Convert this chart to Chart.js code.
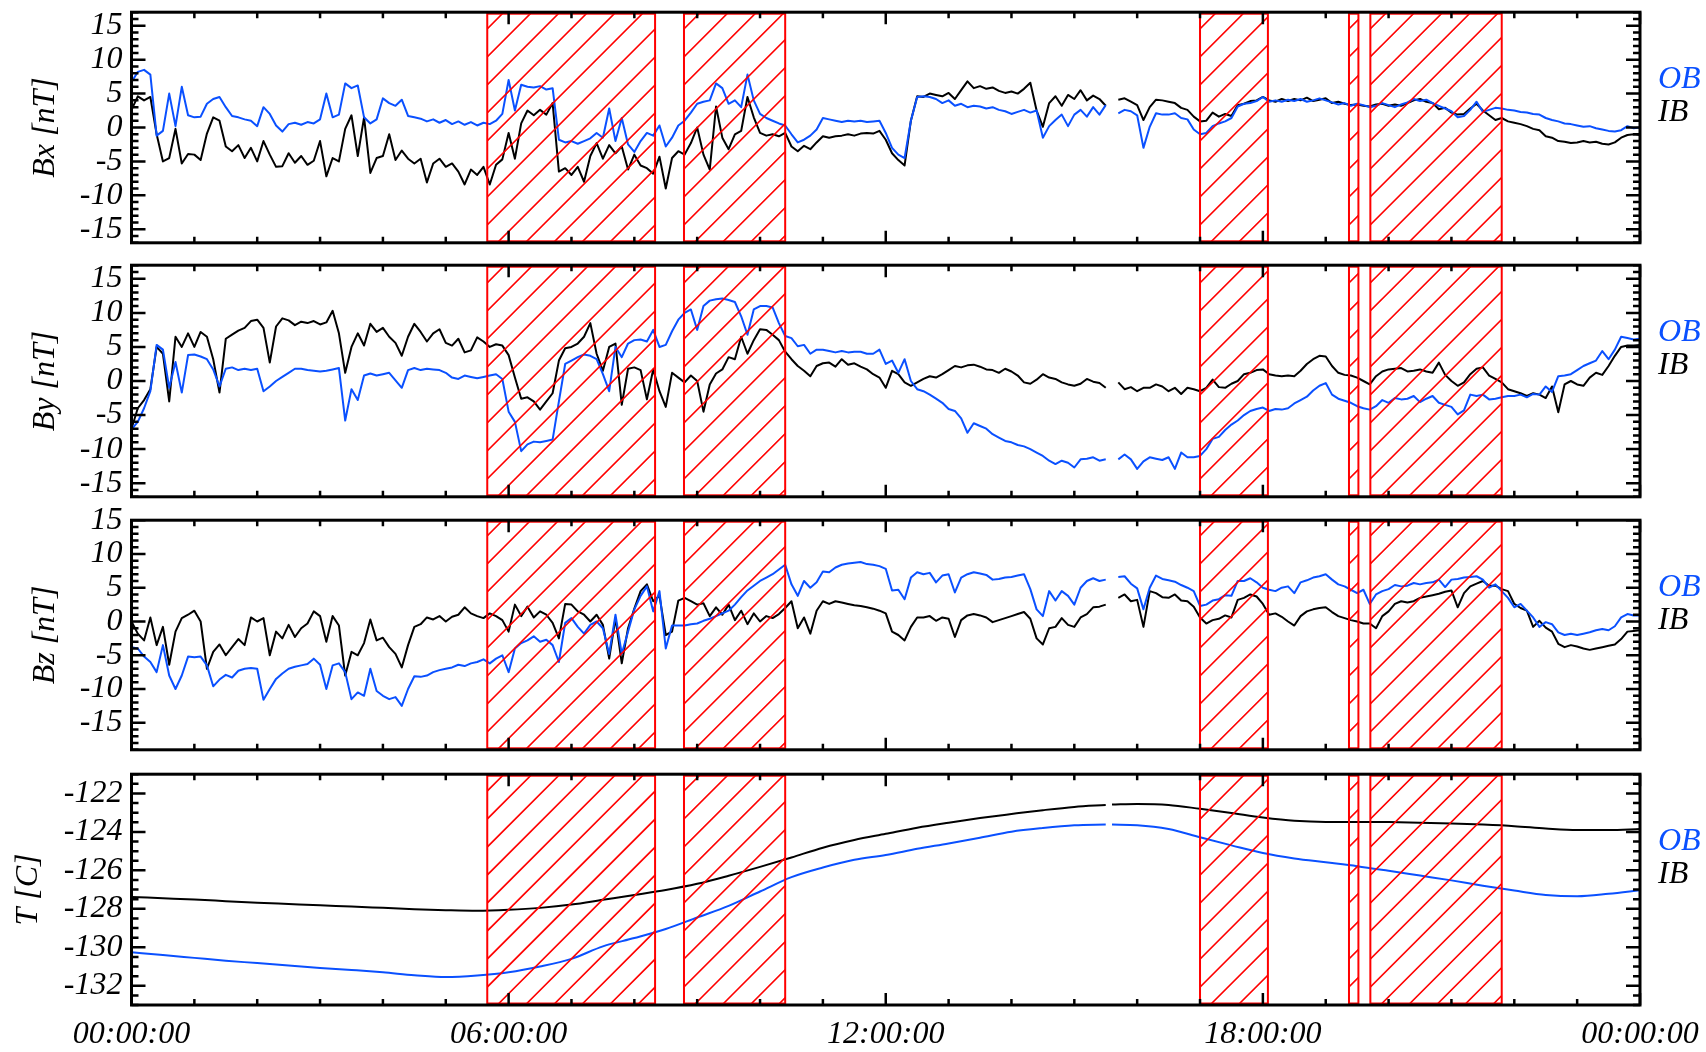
<!DOCTYPE html>
<html>
<head>
<meta charset="utf-8">
<title>Bx By Bz T — OB / IB</title>
<script src="https://cdn.jsdelivr.net/npm/chart.js@4.4.1/dist/chart.umd.min.js"></script>
<style>
  html, body { margin: 0; padding: 0; background: #fff; }
  #page { position: relative; width: 1706px; height: 1052px; overflow: hidden; }
  #page canvas { position: absolute; left: 0; }
</style>
</head>
<body>
<div id="page">
  <canvas id="p-bx"></canvas>
  <canvas id="p-by"></canvas>
  <canvas id="p-bz"></canvas>
  <canvas id="p-t"></canvas>
</div>
<script>
// Magnetometer panels (OB blue / IB black) with hatched intervals.
// B samples every 0.1 h from 00:00 to 24:00; null marks the short data gap near 15:36.
const HOURS = Array.from({ length: 241 }, (_, i) => i / 10);

const BX_OB = [
  6.7, 8.2, 8.5, 7.8, -1.2, -0.5, 5.0, 0.2, 6.0, 1.8,
  1.5, 1.6, 3.5, 4.2, 4.5, 3.0, 1.7, 1.5, 1.2, 1.0,
  0.2, 3.0, 2.0, 0.3, -0.6, 0.5, 0.7, 0.4, 0.8, 0.6,
  1.2, 5.0, 1.5, 1.9, 6.5, 5.8, 6.2, 1.5, 0.6, 1.2,
  4.3, 3.6, 3.2, 4.1, 1.7, 1.5, 1.3, 0.9, 1.2, 0.7,
  1.1, 0.5, 0.9, 0.4, 0.8, 0.3, 0.7, 0.5, 1.0, 2.0,
  7.0, 2.5, 6.3, 6.0, 5.9, 6.1, 5.6, 5.8, -1.8, -2.2,
  -2.0, -2.4, -2.0, -1.6, -0.8, -1.5, 2.8, -2.0, 1.4, -2.5,
  -3.6, -2.0, -0.8, -1.2, 0.3, -2.8, -1.5, 0.3, 1.0, 2.2,
  3.5, 3.8, 4.0, 6.5, 5.8, 3.5, 4.0, 3.0, 7.8, 4.0,
  2.0, 1.4, 1.0, 0.6, 0.3, -1.0, -2.2, -1.8, -1.2, -0.3,
  1.4, 1.2, 1.0, 0.8, 1.0, 0.9, 1.0, 0.8, 0.9, 1.0,
  -0.8, -3.0, -4.0, -4.5, 1.0, 4.5, 4.6, 4.5, 4.2, 3.6,
  4.0, 3.2, 3.5, 3.0, 3.2, 3.1, 2.8, 3.0, 2.6, 2.4,
  2.0, 2.3, 2.6, 2.2, 2.5, -1.5, 0.2, 1.1, 1.9, 0.2,
  1.9, 2.6, 1.6, 3.0, 1.9, 3.3, null, 2.1, 2.6, 2.4,
  1.8, -3.0, 0.1, 2.1, 1.9, 1.9, 2.1, 1.4, 1.2, -0.3,
  -1.0, -0.8, 0.2, 0.6, 0.9, 1.4, 3.1, 3.5, 3.6, 3.9,
  4.5, 3.8, 4.0, 3.8, 4.1, 3.9, 4.2, 3.8, 4.0, 4.3,
  4.0, 3.7, 3.4, 3.6, 3.2, 3.5, 3.3, 3.0, 3.2, 3.6,
  3.3, 3.0, 3.4, 3.7, 4.2, 3.9, 4.1, 3.6, 3.2, 2.8,
  2.4, 1.5, 1.7, 2.6, 3.8, 2.3, 2.6, 2.9, 2.8, 2.6,
  2.5, 2.3, 2.2, 2.0, 1.9, 1.4, 1.1, 0.9, 0.6, 0.5,
  0.3, 0.1, 0.2, -0.1, -0.3, -0.5, -0.6, -0.4, 0.2, -0.1,
  0.0
];
const BX_IB = [
  2.6, 4.6, 4.0, 4.5, -1.0, -5.0, -4.5, -0.2, -5.3, -3.9,
  -4.0, -4.8, -0.9, 1.5, 1.0, -2.8, -3.5, -2.6, -4.5, -3.0,
  -5.0, -2.0, -4.0, -5.8, -5.7, -3.8, -5.2, -4.2, -5.5, -4.9,
  -2.0, -7.2, -4.5, -5.0, -0.2, 1.8, -4.2, 1.5, -6.7, -4.5,
  -4.2, -1.0, -4.8, -3.4, -4.6, -5.3, -4.6, -8.1, -5.3, -4.6,
  -5.8, -5.3, -6.5, -8.4, -6.2, -7.0, -5.8, -8.4, -5.5, -4.7,
  -0.8, -4.6, 0.6, 2.5, 1.8, 2.6, 1.9, 3.6, -6.5, -6.0,
  -7.0, -5.8, -8.0, -4.2, -2.3, -4.6, -2.6, -3.8, -2.8, -6.2,
  -4.0, -5.6, -6.0, -6.8, -4.3, -9.0, -4.5, -3.5, -4.0, -2.3,
  0.0, -4.0, -6.2, 3.1, -1.5, -3.2, -1.0, -0.5, 4.5, 1.5,
  -0.8, -1.2, -1.0, -1.3, -0.8, -2.8, -3.5, -2.7, -3.2, -2.2,
  -1.3, -1.5, -1.3, -1.2, -1.0, -1.2, -0.9, -0.8, -0.9, -0.5,
  -1.8, -3.8, -4.8, -5.6, 1.0, 4.6, 4.5, 5.0, 4.8, 4.6,
  5.1, 4.2, 5.5, 6.8, 5.8, 6.1, 5.7, 5.9, 5.4, 5.1,
  5.3, 5.0, 5.7, 6.6, 2.5, 0.1, 3.6, 4.6, 3.2, 4.8,
  4.2, 5.5, 4.0, 4.7, 4.2, 3.2, null, 4.1, 4.3, 3.8,
  3.3, 1.1, 3.0, 4.1, 4.0, 3.8, 3.6, 2.9, 2.6, 1.6,
  0.9, 1.0, 2.2, 1.6, 2.0, 1.7, 3.3, 3.5, 3.9, 4.0,
  4.5, 4.0, 3.8, 4.2, 3.9, 4.2, 4.0, 4.4, 3.9, 4.1,
  4.3, 3.6, 3.8, 3.5, 3.3, 3.4, 3.2, 3.1, 3.4, 3.5,
  3.2, 3.4, 3.2, 3.6, 4.0, 4.2, 3.8, 3.6, 2.7, 2.9,
  2.2, 1.9, 2.0, 2.8, 3.5, 2.5, 1.8, 1.1, 1.4, 0.9,
  0.7, 0.5, 0.2, -0.2, -0.4, -1.3, -1.5, -2.0, -2.1, -2.3,
  -2.2, -2.0, -2.2, -2.1, -2.4, -2.5, -2.2, -1.5, -1.1, -1.0,
  -1.1
];

const BY_OB = [
  -7.1, -6.0, -4.0, -1.5, 5.3, 4.6, -1.0, 2.8, -1.7, 3.8,
  3.9, 3.6, 3.2, 1.7, -0.8, 1.8, 2.0, 1.6, 1.8, 1.6,
  1.8, -1.5, -0.8, 0.0, 0.6, 1.2, 1.8, 1.8, 1.6, 1.5,
  1.4, 1.5, 1.7, 1.9, -5.8, -1.2, -2.8, 0.8, 1.1, 0.8,
  1.0, 1.2, 0.1, -1.0, 1.6, 1.9, 1.6, 1.8, 1.7, 1.6,
  1.2, 0.5, 0.3, 0.8, 0.6, 0.4, 0.6, 0.8, 1.0, 0.3,
  -4.5, -6.0, -10.3, -9.3, -8.9, -9.0, -8.8, -8.6, -3.0, 2.5,
  3.0, 3.5, 3.9, 3.7, 3.2, 1.0, -1.5, 5.0, 3.5, 5.5,
  6.0, 6.1, 5.8, 7.5, 5.0, 5.3, 7.3, 9.0, 10.0, 10.5,
  7.5, 11.0, 11.8, 12.0, 12.1, 11.9, 11.6, 9.5, 6.8, 10.5,
  11.0, 11.0, 10.8, 8.5, 6.6, 6.3, 5.1, 5.3, 4.0, 4.6,
  4.6, 4.4, 4.2, 4.4, 4.2, 4.3, 4.3, 4.0, 4.0, 4.6,
  2.5, 3.0, 1.2, 3.2, 0.0, -1.2, -1.5, -2.0, -2.6, -3.2,
  -4.1, -4.4, -5.5, -7.6, -6.2, -6.6, -7.0, -7.8, -8.3, -8.8,
  -9.0, -9.4, -9.6, -10.0, -10.5, -11.0, -11.7, -12.2, -11.7, -12.0,
  -12.7, -11.5, -11.4, -11.2, -11.7, -11.5, null, -11.5, -10.8, -11.5,
  -12.9, -11.8, -11.2, -11.4, -11.6, -11.2, -12.9, -10.5, -11.2, -11.2,
  -11.0, -10.0, -8.5, -8.2, -7.2, -6.4, -5.8, -5.0, -4.4, -4.1,
  -3.9, -4.4, -4.1, -4.2, -4.0, -3.3, -2.8, -2.3, -1.4, -0.7,
  -0.3, -2.0, -2.6, -2.9, -3.2, -3.7, -4.0, -4.2, -3.7, -2.8,
  -3.2, -2.5, -2.7, -2.6, -2.2, -3.1, -2.6, -2.2, -3.2, -3.5,
  -3.8, -4.9, -4.3, -2.0, -2.2, -2.0, -2.7, -2.6, -2.4, -2.2,
  -2.2, -2.0, -2.4, -1.9, -2.0, -0.8, -1.6, 0.7, 0.8, 1.0,
  1.6, 2.2, 2.6, 3.0, 4.4, 3.2, 4.6, 6.5, 6.3, 6.1,
  6.2
];
const BY_IB = [
  -7.0, -4.0, -2.8, -1.2, 5.0, 4.0, -3.0, 6.5, 5.0, 7.0,
  5.0, 7.2, 6.5, 3.2, -1.7, 6.2, 6.8, 7.4, 7.8, 8.8,
  9.0, 7.8, 2.7, 8.0, 9.2, 8.9, 8.2, 8.7, 8.5, 8.8,
  8.3, 8.6, 10.3, 7.0, 1.2, 5.0, 7.0, 5.2, 8.4, 7.2,
  7.8, 6.5, 5.6, 3.7, 6.5, 8.4, 7.2, 5.8, 7.0, 7.6,
  5.6, 5.2, 6.2, 4.2, 4.5, 6.4, 5.8, 5.0, 5.4, 5.2,
  3.8, 0.5, -2.6, -2.4, -3.0, -4.2, -3.0, -1.8, 3.0, 4.8,
  5.0, 5.5, 6.5, 8.5, 4.0, 1.5, 5.0, 5.5, -3.5, 1.8,
  2.0, 1.6, -2.7, 1.7, -1.5, -3.8, 1.2, 0.5, -0.2, 0.8,
  0.0, -4.5, -0.5, 1.1, 1.7, 3.5, 3.2, 6.5, 4.0, 6.0,
  7.6, 7.5, 6.8, 6.0, 4.3, 3.2, 2.2, 1.5, 0.7, 2.2,
  2.6, 2.7, 2.1, 3.2, 2.4, 2.6, 2.1, 1.7, 1.0, 0.5,
  -1.0, 1.5, 1.0, -0.2, -0.7, -0.2, 0.3, 0.7, 0.5, 1.0,
  1.6, 2.2, 2.0, 2.3, 2.4, 2.1, 1.7, 1.6, 1.2, 1.8,
  1.4, 0.8, -0.2, -0.4, 0.2, 1.0, 0.5, 0.3, -0.2, -0.5,
  -0.7, -0.4, 0.3, -0.1, -0.3, -1.0, null, -0.2, -1.2, -0.9,
  -1.5, -1.0, -1.0, -0.5, -0.8, -1.5, -1.0, -1.9, -1.0, -1.2,
  -1.5, -1.0, 0.2, -0.9, -1.0, -0.4, 0.0, 1.0, 1.2, 1.6,
  1.7, 1.0, 0.8, 0.7, 0.8, 0.7, 1.5, 2.5, 3.2, 3.7,
  3.6, 2.2, 1.2, 0.9, 0.8, 0.5, 0.0, -0.5, 0.7, 1.4,
  1.7, 1.8, 1.9, 1.4, 1.5, 1.7, 1.4, 1.2, 2.7, 0.9,
  0.0, -0.7, -0.2, 1.0, 1.8, 2.0, 0.8, 0.3, -0.2, -1.2,
  -1.5, -1.8, -2.2, -1.8, -2.0, -2.5, -0.8, -4.6, -0.5, 0.0,
  -0.5, -0.7, 0.5, 1.2, 0.9, 2.2, 3.7, 5.0, 5.2, 5.2,
  5.3
];

const BZ_OB = [
  -3.8, -4.0, -5.2, -6.0, -7.5, -3.5, -8.0, -10.0, -8.0, -5.2,
  -5.3, -5.2, -6.5, -9.6, -8.6, -7.9, -8.3, -7.3, -7.0, -6.9,
  -7.0, -11.6, -10.0, -8.5, -7.7, -7.0, -6.7, -6.5, -6.3, -5.5,
  -6.4, -10.0, -6.5, -6.2, -7.5, -11.5, -10.5, -11.0, -7.0, -10.3,
  -11.0, -11.5, -11.2, -12.5, -10.0, -8.1, -8.2, -8.0, -7.5, -7.2,
  -7.0, -6.8, -6.4, -6.6, -6.2, -6.0, -5.6, -6.2, -5.5, -5.0,
  -7.5, -4.0, -3.2, -2.8, -2.2, -3.0, -2.7, -3.5, -6.0, -0.2,
  0.5, -0.8, -1.8, -0.5, 0.0, -1.0, -4.8, 1.0, -4.8, -1.5,
  1.8, 3.8, 5.2, 1.5, 4.5, -4.0, -0.6, -0.6, -0.6, -0.4,
  -0.3, 0.1, 0.4, 0.8, 1.2, 1.6, 2.5, 3.6, 4.6, 5.3,
  6.0, 6.5, 7.0, 7.7, 8.4, 5.5, 3.8, 6.0, 5.0, 5.8,
  7.4, 7.3, 8.0, 8.4, 8.6, 8.7, 8.8, 8.5, 8.4, 8.2,
  7.8, 4.6, 4.7, 3.3, 6.5, 7.3, 7.0, 7.2, 5.8, 6.8,
  7.0, 4.3, 6.5, 7.0, 7.3, 7.1, 6.9, 6.2, 6.3, 6.5,
  6.6, 6.8, 7.0, 4.8, 1.8, 0.8, 4.5, 3.1, 4.5, 3.8,
  2.5, 5.0, 6.0, 6.4, 6.0, 6.2, null, 6.6, 6.7, 5.6,
  4.9, 1.8, 5.0, 6.8, 6.3, 6.1, 5.9, 5.4, 5.0, 4.5,
  2.3, 2.5, 3.1, 3.3, 3.9, 3.8, 6.0, 6.0, 6.4, 5.8,
  5.0, 4.7, 4.5, 5.0, 5.2, 4.2, 5.8, 6.1, 6.5, 6.7,
  7.0, 6.2, 5.5, 5.2, 4.7, 4.2, 4.7, 2.6, 4.0, 4.5,
  4.8, 5.4, 5.2, 5.3, 5.7, 5.5, 5.7, 5.8, 6.2, 5.1,
  6.2, 6.3, 6.5, 6.6, 6.7, 6.2, 5.0, 5.5, 4.5, 3.5,
  2.1, 2.6, 1.6, 0.6, -0.8, -0.1, -0.4, -1.6, -2.0, -1.8,
  -2.0, -1.8, -1.6, -1.3, -1.1, -1.3, -0.7, 0.6, 1.1, 0.9,
  0.9
];
const BZ_IB = [
  0.0, -1.8, -2.8, 0.6, -3.5, -0.8, -6.4, -1.5, 0.5, 1.0,
  1.6, 0.0, -7.0, -4.5, -3.4, -5.0, -3.8, -2.6, -3.5, 0.6,
  0.0, 0.5, -5.0, -1.5, -2.5, -0.5, -2.3, -1.0, -0.3, 1.5,
  0.8, -3.0, 0.8, -0.6, -8.0, -4.5, -5.0, -3.2, 0.3, -2.8,
  -2.4, -3.8, -4.8, -6.8, -3.5, -0.8, -0.4, 0.6, 0.3, 0.8,
  0.0, 0.7, 1.0, 2.1, 1.2, 0.8, 0.5, 1.2, 0.8, 0.2,
  -1.5, 2.5, 0.8, 2.2, 0.6, 1.5, 1.0, -0.2, -2.5, 2.6,
  2.5, 1.5, 1.0, 0.0, 1.0, -0.5, -5.5, 0.5, -6.2, -1.0,
  1.9, 4.5, 5.5, 3.0, 3.8, -2.0, -1.5, 3.1, 3.5, 3.0,
  2.5, 2.7, 0.8, 2.1, 1.0, 2.5, 0.2, 1.6, -0.4, 1.2,
  0.0, 0.8, 0.5, 1.1, 2.0, 3.0, -1.0, 0.6, -1.8, 1.6,
  3.0, 2.6, 3.0, 2.8, 2.6, 2.4, 2.3, 2.1, 1.9, 1.6,
  1.2, -1.5, -2.0, -2.8, -0.8, 0.6, 0.6, 0.8, 0.1, 0.6,
  0.4, -2.3, 0.2, 0.9, 1.1, 0.9, 0.6, -0.1, 0.2, 0.5,
  0.8, 1.1, 1.4, 0.4, -2.5, -3.4, -1.0, -0.8, 0.5, -0.5,
  -0.8, 0.6, 1.1, 2.1, 2.2, 2.5, null, 3.5, 4.0, 3.0,
  3.2, -0.8, 4.5, 4.2, 3.6, 3.5, 4.0, 3.1, 3.0, 2.2,
  0.6, -0.3, 0.2, 0.4, 0.9, 0.6, 3.2, 3.5, 4.0, 3.7,
  2.6, 1.0, 1.2, 0.7, 0.0, -0.6, 0.8, 1.5, 1.8, 2.0,
  2.1, 1.4, 0.8, 0.5, 0.2, 0.0, -0.3, -0.3, -1.0, 0.8,
  1.5, 2.6, 3.0, 2.8, 3.0, 3.5, 3.7, 3.9, 4.1, 4.4,
  4.6, 2.1, 4.2, 5.2, 5.6, 6.0, 5.3, 5.3, 4.8, 4.5,
  2.6, 2.0, 1.6, -0.8, 0.1, -0.9, -1.5, -3.3, -3.8, -3.5,
  -3.7, -4.0, -4.2, -4.0, -3.8, -3.6, -3.4, -2.6, -1.5, -1.4,
  -1.3
];

// Temperature: smooth curves, sampled every 0.5 h plus the gap at 15:33
const T_HOURS = [
  0, 0.5, 1, 1.5, 2, 2.5, 3, 3.5, 4, 4.5, 5, 5.5, 6, 6.5, 7, 7.5,
  8, 8.5, 9, 9.5, 10, 10.5, 11, 11.5, 12, 12.5, 13, 13.5, 14, 14.5, 15, 15.5,
  15.55, 15.6,
  16, 16.5, 17, 17.5, 18, 18.5, 19, 19.5, 20, 20.5, 21, 21.5, 22, 22.5, 23, 23.5, 24
];
const T_OB = [
  -130.26, -130.4, -130.55, -130.7, -130.82, -130.95, -131.07, -131.18, -131.3, -131.45, -131.55, -131.47, -131.3, -131.0, -130.6, -129.95,
  -129.52, -129.05, -128.45, -127.85, -127.1, -126.35, -125.85, -125.45, -125.2, -124.88, -124.6, -124.3, -123.99, -123.8, -123.66, -123.62,
  null, -123.62,
  -123.65, -123.85, -124.28, -124.7, -125.1, -125.38, -125.58, -125.78, -126.02, -126.27, -126.52, -126.8, -127.05, -127.28, -127.35, -127.22, -127.03
];
const T_IB = [
  -127.38, -127.45, -127.52, -127.6, -127.68, -127.75, -127.82, -127.88, -127.95, -128.02, -128.07, -128.1, -128.05, -127.95, -127.78, -127.53,
  -127.28, -127.02, -126.7, -126.28, -125.82, -125.33, -124.82, -124.42, -124.1, -123.78, -123.52, -123.28, -123.07, -122.87, -122.7, -122.6,
  null, -122.58,
  -122.55, -122.6, -122.8, -123.02, -123.25, -123.42, -123.48, -123.48, -123.49, -123.52, -123.56, -123.62, -123.7, -123.82, -123.9, -123.9, -123.85
];

// hatched intervals [start h, end h]
const REGIONS = [[5.66, 8.33], [8.79, 10.40], [17.0, 18.08], [19.37, 19.52], [19.71, 21.80]];

const X_TICKS = [0, 6, 12, 18, 24];
const X_LABELS = ['00:00:00', '06:00:00', '12:00:00', '18:00:00', '00:00:00'];
const B_TICKS = [-15, -10, -5, 0, 5, 10, 15];
const T_TICKS = [-132, -130, -128, -126, -124, -122];

const BLUE = '#0a50ff';
const RED = '#ff0000';
const FONT = { family: '"Liberation Serif", "Times New Roman", serif', size: 32, style: 'italic' };
const PLOT_LEFT = 131.5, PLOT_RIGHT = 1640, PAGE_W = 1706;
const HATCH_GAP = 28;

Chart.defaults.color = '#000';
Chart.defaults.font.family = FONT.family;

const toXY = (xs, ys) => ys.map((v, i) => ({ x: xs[i], y: v }));

// red diagonal hatching over the marked intervals
const hatchPlugin = {
  id: 'hatch',
  afterDatasetsDraw(chart) {
    const { ctx, chartArea: a, scales: { x } } = chart;
    const h = a.bottom - a.top;
    ctx.save();
    ctx.strokeStyle = RED;
    for (const [s, e] of REGIONS) {
      const x1 = x.getPixelForValue(s), x2 = x.getPixelForValue(e);
      ctx.save();
      ctx.beginPath();
      ctx.rect(x1, a.top, x2 - x1, h);
      ctx.clip();
      ctx.lineWidth = 1.6;
      ctx.beginPath();
      for (let k = x1 + 10 - HATCH_GAP * Math.ceil(h / HATCH_GAP + 1); k < x2; k += HATCH_GAP) {
        ctx.moveTo(k, a.bottom);
        ctx.lineTo(k + h, a.top);
      }
      ctx.stroke();
      ctx.restore();
      ctx.lineWidth = 2;
      ctx.strokeRect(x1, a.top + 1.5, x2 - x1, h - 3);
    }
    ctx.restore();
  }
};

// IDL-like box: thick frame with inward major/minor ticks on all four sides
const framePlugin = {
  id: 'frame',
  afterDraw(chart, args, opts) {
    const { ctx, chartArea: a, scales: { x, y } } = chart;
    ctx.save();
    ctx.strokeStyle = '#000';
    ctx.lineWidth = 2.5;
    ctx.beginPath();
    for (let hr = 0; hr <= 24; hr++) {
      const px = x.getPixelForValue(hr);
      const len = X_TICKS.includes(hr) ? 12 : 6;
      ctx.moveTo(px, a.top); ctx.lineTo(px, a.top + len);
      ctx.moveTo(px, a.bottom); ctx.lineTo(px, a.bottom - len);
    }
    const step = opts.minor;
    for (let v = Math.ceil(y.min / step) * step; v <= y.max + 1e-9; v += step) {
      const py = y.getPixelForValue(v);
      const len = opts.major.some(m => Math.abs(m - v) < 1e-6) ? 14 : 7;
      ctx.moveTo(a.left, py); ctx.lineTo(a.left + len, py);
      ctx.moveTo(a.right, py); ctx.lineTo(a.right - len, py);
    }
    ctx.stroke();
    ctx.lineWidth = 3;
    ctx.strokeRect(a.left, a.top, a.right - a.left, a.bottom - a.top);
    ctx.restore();
  }
};

// "OB" / "IB" to the right of each panel, coloured like their lines
const sideLabelPlugin = {
  id: 'sideLabels',
  afterDraw(chart) {
    const { ctx, chartArea: a } = chart;
    ctx.save();
    ctx.font = `italic ${FONT.size}px ${FONT.family}`;
    ctx.textAlign = 'left';
    ctx.textBaseline = 'middle';
    chart.data.datasets.forEach((ds, i) => {
      ctx.fillStyle = ds.borderColor;
      ctx.fillText(ds.label, a.right + 18, a.top + 67 + i * 33);
    });
    ctx.restore();
  }
};

const PANELS = [
  { id: 'p-bx', top: 12, bottom: 243, title: 'Bx [nT]', xs: HOURS, ob: BX_OB, ib: BX_IB, min: -17, max: 17, ticks: B_TICKS, minor: 1, titlePad: 26 },
  { id: 'p-by', top: 265, bottom: 497, title: 'By [nT]', xs: HOURS, ob: BY_OB, ib: BY_IB, min: -17, max: 17, ticks: B_TICKS, minor: 1, titlePad: 26 },
  { id: 'p-bz', top: 520, bottom: 750, title: 'Bz [nT]', xs: HOURS, ob: BZ_OB, ib: BZ_IB, min: -19, max: 15, ticks: B_TICKS, minor: 1, titlePad: 26 },
  { id: 'p-t', top: 774, bottom: 1005, title: 'T [C]', xs: T_HOURS, ob: T_OB, ib: T_IB, min: -133, max: -121, ticks: T_TICKS, minor: 0.5, titlePad: 9, smooth: true, showX: true }
];

const PAD = 28, X_AXIS_H = 47;

PANELS.forEach(p => {
  const cv = document.getElementById(p.id);
  const plotH = p.bottom - p.top;
  cv.width = PAGE_W;
  cv.height = PAD + plotH + (p.showX ? X_AXIS_H : PAD);
  cv.style.top = (p.top - PAD) + 'px';
  cv.style.width = PAGE_W + 'px';
  cv.style.height = cv.height + 'px';

  const line = {
    pointRadius: 0,
    borderWidth: 2,
    borderJoinStyle: 'round',
    tension: 0,
    cubicInterpolationMode: p.smooth ? 'monotone' : 'default',
    spanGaps: false
  };

  new Chart(cv, {
    type: 'line',
    data: {
      datasets: [
        { ...line, label: 'OB', data: toXY(p.xs, p.ob), borderColor: BLUE },
        { ...line, label: 'IB', data: toXY(p.xs, p.ib), borderColor: '#000000' }
      ]
    },
    options: {
      responsive: false,
      animation: false,
      events: [],
      layout: { padding: { top: PAD, bottom: p.showX ? 0 : PAD, left: 0, right: PAGE_W - PLOT_RIGHT } },
      plugins: {
        legend: { display: false },
        tooltip: { enabled: false },
        frame: { minor: p.minor, major: p.ticks }
      },
      scales: {
        x: {
          type: 'linear', min: 0, max: 24,
          display: !!p.showX,
          grid: { display: false, drawTicks: false },
          border: { display: false },
          afterBuildTicks: s => { s.ticks = X_TICKS.map(v => ({ value: v })); },
          // same plot width in every panel: labels at the ends must not shrink the area
          afterFit: s => { s.height = p.showX ? X_AXIS_H : 0; s.paddingLeft = 0; s.paddingRight = 0; },
          ticks: { font: FONT, color: '#000', padding: 10, autoSkip: false, maxRotation: 0, callback: (v, i) => X_LABELS[i] }
        },
        y: {
          min: p.min, max: p.max,
          grid: { display: false, drawTicks: false },
          border: { display: false },
          afterBuildTicks: s => { s.ticks = p.ticks.map(v => ({ value: v })); },
          afterFit: s => { s.width = PLOT_LEFT; },
          ticks: { font: FONT, color: '#000', padding: 9, autoSkip: false, callback: v => String(v) },
          title: { display: true, text: p.title, font: FONT, color: '#000', padding: { top: p.titlePad, bottom: 0 } }
        }
      }
    },
    plugins: [hatchPlugin, framePlugin, sideLabelPlugin]
  });
});
</script>
</body>
</html>
